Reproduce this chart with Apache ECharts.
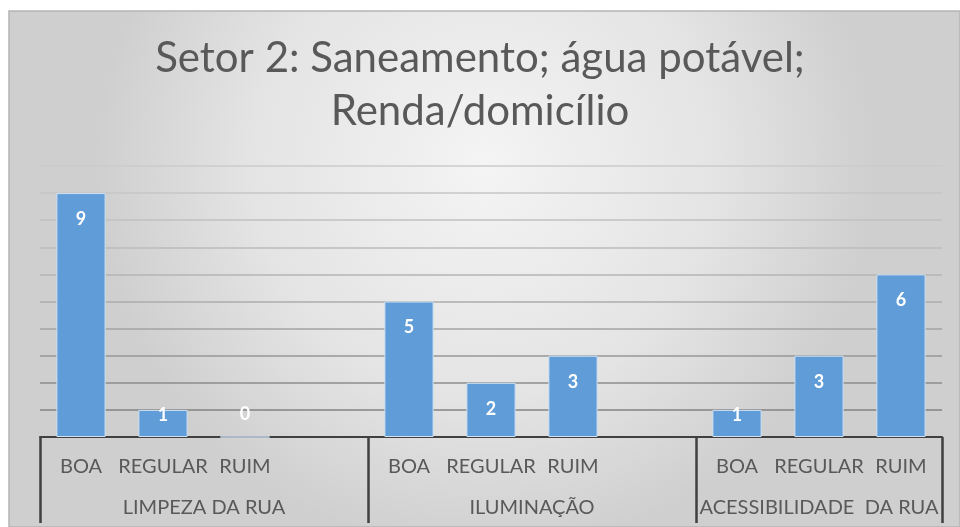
<!DOCTYPE html>
<html>
<head>
<meta charset="utf-8">
<script src="https://cdn.jsdelivr.net/npm/echarts@6/dist/echarts.min.js"></script>
<style>
  html, body { margin: 0; padding: 0; background: #fff; }
  #main { width: 960px; height: 527px; }
</style>
</head>
<body>
<div id="main"></div>
<script>
// dados
var titulo = 'Setor 2: Saneamento; água potável;\nRenda/domicílio';
var niveis = ['BOA', 'REGULAR', 'RUIM'];
var grupos = ['LIMPEZA DA RUA', 'ILUMINAÇÃO', 'ACESSIBILIDADE  DA RUA'];
var valores = [
    [9, 1, 0],   // limpeza da rua
    [5, 2, 3],   // iluminação
    [1, 3, 6]    // acessibilidade da rua
];
var yTicks = [0, 1, 2, 3, 4, 5, 6, 7, 8, 9, 10];

// monta as categorias com uma coluna vazia entre grupos
var categorias = [];
var dados = [];
var limites = [0];     // onde ficam os separadores verticais
var centros = [];      // onde fica o nome de cada grupo
grupos.forEach(function (g, gi) {
    var ini = categorias.length;
    niveis.forEach(function (n, ni) {
        categorias.push(n);
        dados.push(valores[gi][ni]);
    });
    if (gi < grupos.length - 1) {
        categorias.push('');
        dados.push('-');
    }
    limites.push(categorias.length);
    centros.push((ini + categorias.length) / 2);
});

// rótulos de valor: brancos dentro do topo, como no Excel
var serieDados = dados.map(function (v) {
    if (v === '-') return v;
    var lab = { position: 'insideTop', distance: 17 };
    if (v === 1) lab = { position: 'insideTop', distance: -4 };
    if (v === 0) lab = { position: 'top', distance: 13 };
    return { value: v, label: lab };
});

// linhas de grade mais escuras embaixo, mais claras em cima
var coresGrade = ['#7a7a7a', '#838383', '#8c8c8c', '#979797', '#a3a3a3', '#adadad',
    '#b5b5b5', '#bbbbbb', '#c1c1c1', '#c6c6c6', '#cbcbcb'];

var fonte = 'Lato, "Open Sans", sans-serif';

var chart = echarts.init(document.getElementById('main'), null, { renderer: 'canvas' });

var option = {
    backgroundColor: '#ffffff',
    animation: false,
    graphic: [{
        type: 'rect',
        z: -10,
        silent: true,
        shape: { x: 9, y: 11, width: 951, height: 516 },
        style: {
            fill: {
                type: 'radial', x: 0.5, y: 0.3, r: 0.75,
                colorStops: [
                    { offset: 0, color: '#f4f4f4' },
                    { offset: 0.6, color: '#e4e4e4' },
                    { offset: 1, color: '#cfcfcf' }
                ]
            },
            stroke: '#b5b5b5',
            lineWidth: 1.5
        }
    }],
    title: {
        text: titulo,
        left: 'center',
        top: 27,
        textStyle: {
            fontFamily: fonte,
            fontSize: 42,
            fontWeight: 'normal',
            color: '#595959',
            lineHeight: 53
        }
    },
    grid: {
        left: 40,
        right: 18,
        top: 166,
        bottom: 90,
        containLabel: false
    },
    xAxis: [{
        type: 'category',
        data: categorias,
        axisLine: { show: true, lineStyle: { color: '#404040', width: 2 } },
        axisTick: { show: false },
        axisLabel: {
            interval: 0,
            margin: 20,
            fontFamily: fonte,
            fontSize: 20,
            color: '#595959'
        }
    }, {
        type: 'value',
        position: 'bottom',
        min: 0,
        max: categorias.length,
        axisLine: { show: false },
        splitLine: { show: false },
        axisTick: {
            show: true,
            customValues: limites,
            length: 86,
            lineStyle: { color: '#404040', width: 2.5 }
        },
        axisLabel: {
            show: true,
            customValues: centros,
            margin: 61,
            fontFamily: fonte,
            fontSize: 20,
            color: '#595959',
            formatter: function (v) {
                var i = centros.indexOf(v);
                return i >= 0 ? grupos[i] : '';
            }
        }
    }],
    yAxis: {
        type: 'value',
        min: yTicks[0],
        max: yTicks[yTicks.length - 1],
        interval: 1,
        axisLine: { show: false },
        axisTick: { show: false },
        axisLabel: { show: false },
        splitLine: { show: true, lineStyle: { color: coresGrade, width: 1.5 } }
    },
    series: [{
        type: 'bar',
        xAxisIndex: 0,
        data: serieDados,
        barWidth: '60%',
        itemStyle: {
            color: '#5f9cd8',
            borderColor: '#cfe1f3',
            borderWidth: 1
        },
        label: {
            show: true,
            color: '#ffffff',
            fontFamily: fonte,
            fontWeight: 'bold',
            fontSize: 18
        }
    }]
};

chart.setOption(option);
</script>
</body>
</html>
